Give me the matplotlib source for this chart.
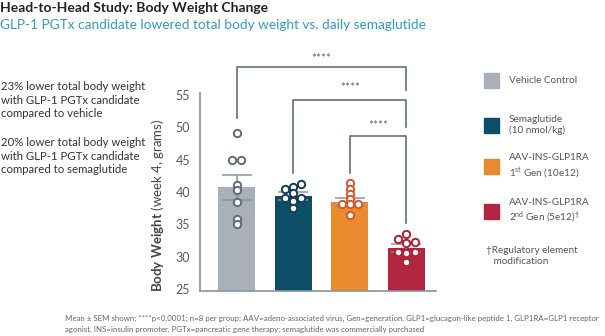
import numpy as np
import matplotlib.pyplot as plt
from matplotlib.patches import Rectangle

plt.rcParams['font.family'] = ['Lato', 'DejaVu Sans']
plt.rcParams['mathtext.fontset'] = 'custom'
plt.rcParams['mathtext.rm'] = 'Lato'
plt.rcParams['mathtext.it'] = 'Lato:italic'
plt.rcParams['mathtext.bf'] = 'Lato:bold'

# group means, SEM and individual animals (body weight at week 4, grams)
groups = ['Vehicle Control', 'Semaglutide\n(10 nmol/kg)',
          'AAV-INS-GLP1RA\n1$^{\\mathrm{st}}$ Gen (10e12)',
          'AAV-INS-GLP1RA\n2$^{\\mathrm{nd}}$ Gen (5e12)$^{\\mathrm{\u2020}}$']
means = [40.7, 39.4, 38.5, 31.3]
sem = [1.9, 0.6, 0.6, 0.6]
vehicle_pts = [49.1, 45.0, 45.0, 41.1, 40.3, 38.4, 35.8, 35.0]
sema_pts = [41.2, 40.8, 40.4, 39.9, 39.0, 39.0, 38.6, 37.6]
gen1_pts = [41.35, 40.5, 39.65, 38.9, 38.1, 38.1, 38.1, 36.5]
gen2_pts = [33.5, 32.7, 32.1, 32.2, 30.8, 30.5, 30.8, 29.2]
points = [vehicle_pts, sema_pts, gen1_pts, gen2_pts]
yticks = [25, 30, 35, 40, 45, 50, 55]

# sideways column of each dot, in dot widths
dot_cols = [[0, -0.5, 0.5, 0, 0, 0, 0, 0],
            [1, 0, -1, 0, -1, 1, 0, 0],
            [0, 0, 0, 0, 0, -1, 1, 0],
            [0, -1, 0, 1, -1, 0, 1, 0]]

bar_colors = ['#a9b0ba', '#0d4e66', '#e98a2f', '#b2253f']
edge_colors = ['#5d6c7b', '#173d55', '#d9542c', '#b11f35']
line_gray = '#8794a1'
bracket_gray = '#60717f'

fig = plt.figure(figsize=(6.05, 3.36), dpi=100)
ax = fig.add_axes([0.3306, 0.134, 0.390, 0.589])

x = np.arange(len(means))
ax.bar(x, means, width=0.65, color=bar_colors, zorder=1)
ax.errorbar(x, means, yerr=sem, fmt='none', ecolor=line_gray, elinewidth=1.1,
            capsize=10.5, capthick=1.1, zorder=2)

ax.set_xlim(-0.644, 3.52)
ax.set_ylim(24.7, 55.3)
ax.set_yticks(yticks)
ax.set_xticks([])
ax.tick_params(axis='y', length=0, pad=7, labelsize=9, labelcolor='#5a5a5a')
for s in ['top', 'right']:
    ax.spines[s].set_visible(False)
for s in ['left', 'bottom']:
    ax.spines[s].set_color(line_gray)
    ax.spines[s].set_linewidth(1.2)

# individual animals as open circles
fig.canvas.draw()
px_per_x = ax.transData.transform((1, 0))[0] - ax.transData.transform((0, 0))[0]
d = 8.3
for i, vals in enumerate(points):
    xs = [i + c * d / px_per_x for c in dot_cols[i]]
    ax.plot(xs, vals, 'o', ms=5.3, mfc='white', mec=edge_colors[i], mew=1.4,
            zorder=3, clip_on=False)

# significance brackets against the 2nd gen group
def bracket(x0, x1, y, left_end, right_end, label_y):
    ax.plot([x0, x0, x1, x1], [left_end, y, y, right_end], color=bracket_gray,
            lw=1.2, clip_on=False, zorder=2)
    ax.text((x0 + x1) / 2, label_y, '****', ha='center', va='baseline',
            fontsize=8.5, color='#666666')

bracket(0, 3, 59.4, 51.4, 55.8, 60.1)
bracket(1, 3, 54.2, 42.9, 50.1, 55.6)
bracket(2, 3, 48.7, 42.9, 35.2, 49.8)

fig.text(157 / 605, 1 - 205 / 336, r'$\mathbf{Body\ Weight}$ (week 4, grams)',
         rotation=90, ha='center', va='center', fontsize=9.5, color='#444444')

# headings and takeaways
fig.text(0.0, 1 - 8 / 336, 'Head-to-Head Study: Body Weight Change', fontsize=10,
         fontweight='bold', color='#222222', va='center')
fig.text(0.0, 1 - 25 / 336, 'GLP-1 PGTx candidate lowered total body weight vs. daily semaglutide',
         fontsize=9.8, color='#2e9dc1', va='center')
fig.text(0.002, 1 - 100 / 336,
         '23% lower total body weight\nwith GLP-1 PGTx candidate\ncompared to vehicle',
         fontsize=8.2, color='#333333', va='center', linespacing=1.3)
fig.text(0.002, 1 - 156 / 336,
         '20% lower total body weight\nwith GLP-1 PGTx candidate\ncompared to semaglutide',
         fontsize=8.2, color='#333333', va='center', linespacing=1.3)

# legend
legend_y = [80.5, 125, 166.5, 211.5]
for lab, col, yy in zip(groups, bar_colors, legend_y):
    fig.patches.append(Rectangle((484 / 605, 1 - (yy + 7.5) / 336), 15 / 605, 15 / 336,
                                 transform=fig.transFigure, color=col))
    fig.text(509 / 605, 1 - yy / 336, lab, fontsize=7.2, color='#555555',
             va='center', linespacing=1.3)
fig.text(486 / 605, 1 - 256 / 336, '\u2020Regulatory element\n   modification',
         fontsize=7.2, color='#555555', va='center', linespacing=1.3)

fig.text(65 / 605, 1 - 318 / 336,
         'Mean \u00b1 SEM shown; ****p<0.0001; n=8 per group; AAV=adeno-associated virus, '
         'Gen=generation, GLP1=glucagon-like peptide 1, GLP1RA=GLP1 receptor',
         fontsize=5.7, color='#666666', va='center')
fig.text(65 / 605, 1 - 329 / 336,
         'agonist, INS=insulin promoter, PGTx=pancreatic gene therapy; '
         'semaglutide was commercially purchased',
         fontsize=5.7, color='#666666', va='center')

fig.savefig('out.png', dpi=100)
